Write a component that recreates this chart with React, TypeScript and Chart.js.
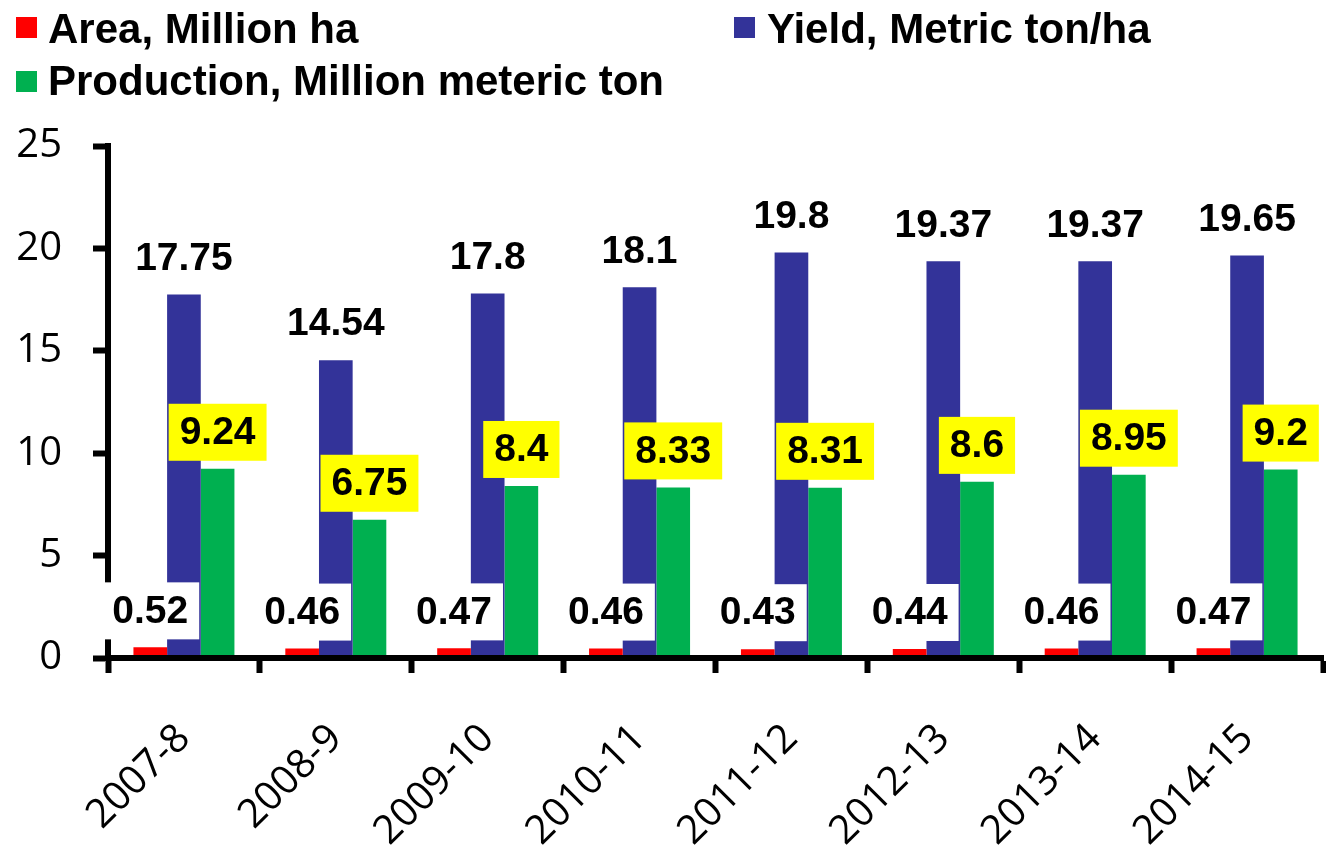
import { useEffect, useRef } from "react";
import { Chart, registerables } from "chart.js";

Chart.register(...registerables);

const categories = ["2007-8", "2008-9", "2009-10", "2010-11", "2011-12", "2012-13", "2013-14", "2014-15"];
const areaValues = [0.52, 0.46, 0.47, 0.46, 0.43, 0.44, 0.46, 0.47];
const yieldValues = [17.75, 14.54, 17.8, 18.1, 19.8, 19.37, 19.37, 19.65];
const productionValues = [9.24, 6.75, 8.4, 8.33, 8.31, 8.6, 8.95, 9.2];
const seriesNames = ["Area, Million ha", "Yield, Metric ton/ha", "Production, Million meteric ton"];
const seriesColors = ["#FF0000", "#333399", "#00B050"];
const labelBackgrounds = ["#FFFFFF", "", "#FFFF00"];
const yMin = 0;
const yMax = 25;
const yStep = 5;

const LABEL_FONT = "bold 39px 'Liberation Sans', Arial, sans-serif";

const valueLabelPlugin = {
  id: "valueLabels",
  afterDraw(chart: any) {
    const ctx = chart.ctx;
    ctx.save();
    ctx.font = LABEL_FONT;
    ctx.textAlign = "center";
    ctx.textBaseline = "middle";
    chart.data.datasets.forEach((ds: any, di: number) => {
      const meta = chart.getDatasetMeta(di);
      const bg = labelBackgrounds[di];
      meta.data.forEach((bar: any, i: number) => {
        const text = String(ds.data[i]);
        const w = ctx.measureText(text).width + 22;
        const h = 57;
        const x = bar.x;
        const bottom = bar.y - 8;
        if (bg) {
          ctx.fillStyle = bg;
          ctx.fillRect(x - w / 2, bottom - h, w, h);
        }
        ctx.fillStyle = "#000000";
        ctx.fillText(text, x, bottom - h / 2 + 1);
      });
    });
    ctx.restore();
  },
};

const legendFont = "bold 42px 'Liberation Sans', Arial, sans-serif";
const legendItems = [
  { idx: 0, sx: 16, sy: 17, tx: 48, ty: 8 },
  { idx: 1, sx: 734, sy: 17, tx: 767, ty: 8 },
  { idx: 2, sx: 16, sy: 71, tx: 48, ty: 60 },
];

export default function App() {
  const canvasRef = useRef<HTMLCanvasElement | null>(null);

  useEffect(() => {
    document.body.style.margin = "0";
    const canvas = canvasRef.current;
    if (!canvas) return;
    const chart = new Chart(canvas, {
      type: "bar",
      data: {
        labels: categories,
        datasets: [
          { label: seriesNames[0], data: areaValues, backgroundColor: seriesColors[0] },
          { label: seriesNames[1], data: yieldValues, backgroundColor: seriesColors[1] },
          { label: seriesNames[2], data: productionValues, backgroundColor: seriesColors[2] },
        ],
      },
      options: {
        responsive: false,
        animation: false,
        maintainAspectRatio: false,
        layout: { padding: { top: 146, right: 3, bottom: 0, left: 0 } },
        datasets: { bar: { categoryPercentage: 0.665, barPercentage: 1.0 } },
        plugins: {
          legend: { display: false },
          tooltip: { enabled: false },
        },
        scales: {
          x: {
            grid: {
              display: true,
              drawOnChartArea: false,
              drawTicks: true,
              tickLength: 15,
              tickWidth: 6,
              tickColor: "#000000",
              offset: true,
            },
            border: { display: true, color: "#000000", width: 6, z: 1 },
            ticks: {
              color: "#000000",
              font: { family: "'Open Sans', sans-serif", size: 40 },
              maxRotation: 45,
              minRotation: 45,
              autoSkip: false,
              padding: 42,
            },
            afterFit: (scale: any) => {
              scale.height = 192;
            },
          },
          y: {
            min: yMin,
            max: yMax,
            grid: {
              display: true,
              drawOnChartArea: false,
              drawTicks: true,
              tickLength: 15,
              tickWidth: 6,
              tickColor: "#000000",
            },
            border: { display: true, color: "#000000", width: 6, z: 1 },
            ticks: {
              stepSize: yStep,
              color: "#000000",
              font: { family: "'Open Sans', sans-serif", size: 40 },
              padding: 31,
            },
            afterFit: (scale: any) => {
              scale.width = 108;
            },
          },
        },
      },
      plugins: [valueLabelPlugin],
    });
    return () => chart.destroy();
  }, []);

  return (
    <div style={{ position: "fixed", left: 0, top: 0, width: 1326, height: 850, background: "#FFFFFF" }}>
      <canvas ref={canvasRef} width={1326} height={850} style={{ position: "absolute", left: 0, top: 0 }} />
      {legendItems.map((it) => (
        <div key={it.idx}>
          <div
            style={{
              position: "absolute",
              left: it.sx,
              top: it.sy,
              width: 21,
              height: 21,
              background: seriesColors[it.idx],
            }}
          />
          <div
            style={{
              position: "absolute",
              left: it.tx,
              top: it.ty,
              font: legendFont,
              lineHeight: "42px",
              color: "#000000",
              whiteSpace: "pre",
            }}
          >
            {seriesNames[it.idx]}
          </div>
        </div>
      ))}
    </div>
  );
}
